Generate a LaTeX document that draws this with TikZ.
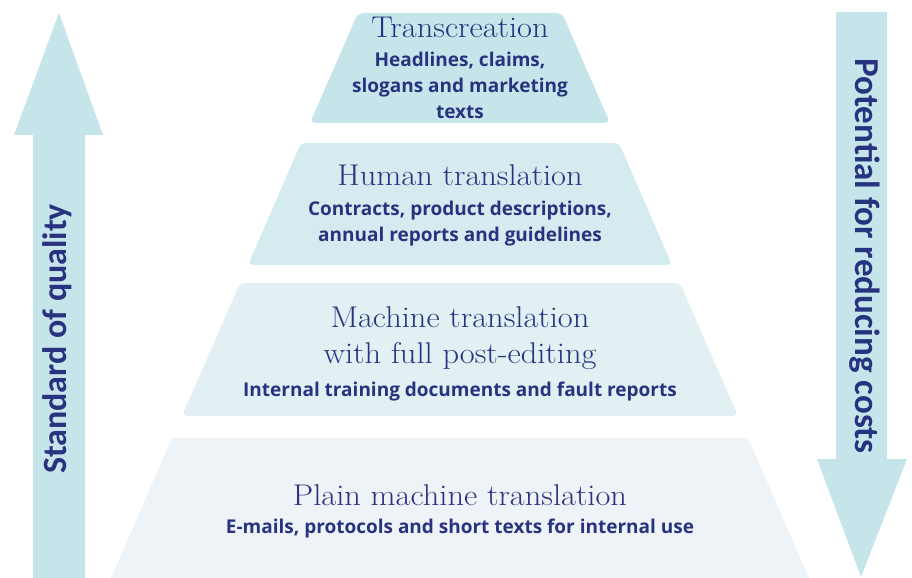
\documentclass[tikz,border=0pt]{standalone}
\usepackage{fontspec}
\setmainfont{Latin Modern Roman}[FakeStretch=1.08]
\newfontfamily\subfont{Open Sans}
\newfontfamily\axisfont{Carlito}
\definecolor{navy}{HTML}{28337F}
\definecolor{tierA}{HTML}{C6E5EB}
\definecolor{tierB}{HTML}{D4EBF0}
\definecolor{tierC}{HTML}{E2F0F4}
\definecolor{tierD}{HTML}{EEF3F8}
\definecolor{arrowfill}{HTML}{C6E5EB}
\tikzset{
  title/.style={anchor=base, inner sep=0pt, text=navy, font=\fontsize{30bp}{34bp}\selectfont},
  sub/.style={anchor=base, inner sep=0pt, text=navy, font=\subfont\bfseries\fontsize{19bp}{22bp}\selectfont},
  axislabel/.style={anchor=base, inner sep=0pt, text=navy, font=\axisfont\bfseries\fontsize{34bp}{40bp}\selectfont},
  tiershape/.style={rounded corners=5bp}
}
\begin{document}
\begin{tikzpicture}[x=1bp,y=-1bp]
\useasboundingbox (0,0) rectangle (912,578);
% arrows
\fill[arrowfill] (59,13) -- (103,135) -- (85,135) -- (85,578) -- (33,578) -- (33,135) -- (14,135) -- cycle;
\fill[arrowfill] (836,12) -- (887,12) -- (887,459) -- (907,459) -- (861,577) -- (817,459) -- (836,459) -- cycle;
% tiers
\fill[tierA, tiershape] (358,13) -- (562,13) -- (610,123) -- (310,123) -- cycle;
\fill[tierB, tiershape] (301,143) -- (619,143) -- (672,265) -- (248,265) -- cycle;
\fill[tierC, tiershape] (240,283) -- (680,283) -- (738,416) -- (182,416) -- cycle;
\fill[tierD, rounded corners=5bp] (172,438) -- (748,438) [sharp corners] -- (809,578) -- (111,578) -- cycle;
% tier 1
\node[title] (t1) at (460,38) {Transcreation};
\node[sub] (s1a) at (460,67) {Headlines, claims,};
\node[sub] (s1b) at (460,93) {slogans and marketing};
\node[sub] (s1c) at (460,119) {texts};
% tier 2
\node[title] (t2) at (460,186) {Human translation};
\node[sub] (s2a) at (460,216) {Contracts, product descriptions,};
\node[sub] (s2b) at (460,242) {annual reports and guidelines};
% tier 3
\node[title] (t3a) at (460,327) {Machine translation};
\node[title] (t3b) at (460,363) {with full post-editing};
\node[sub] (s3) at (460,396) {Internal training documents and fault reports};
% tier 4
\node[title] (t4) at (460,505) {Plain machine translation};
\node[sub] (s4) at (460,533) {E-mails, protocols and short texts for internal use};
% axis labels
\node[axislabel, rotate=90] (quality) at (66,339) {Standard of quality};
\node[axislabel, font=\axisfont\bfseries\fontsize{35bp}{40bp}\selectfont, rotate=-90] (costs) at (855,256) {Potential for reducing costs};
\end{tikzpicture}
\end{document}
